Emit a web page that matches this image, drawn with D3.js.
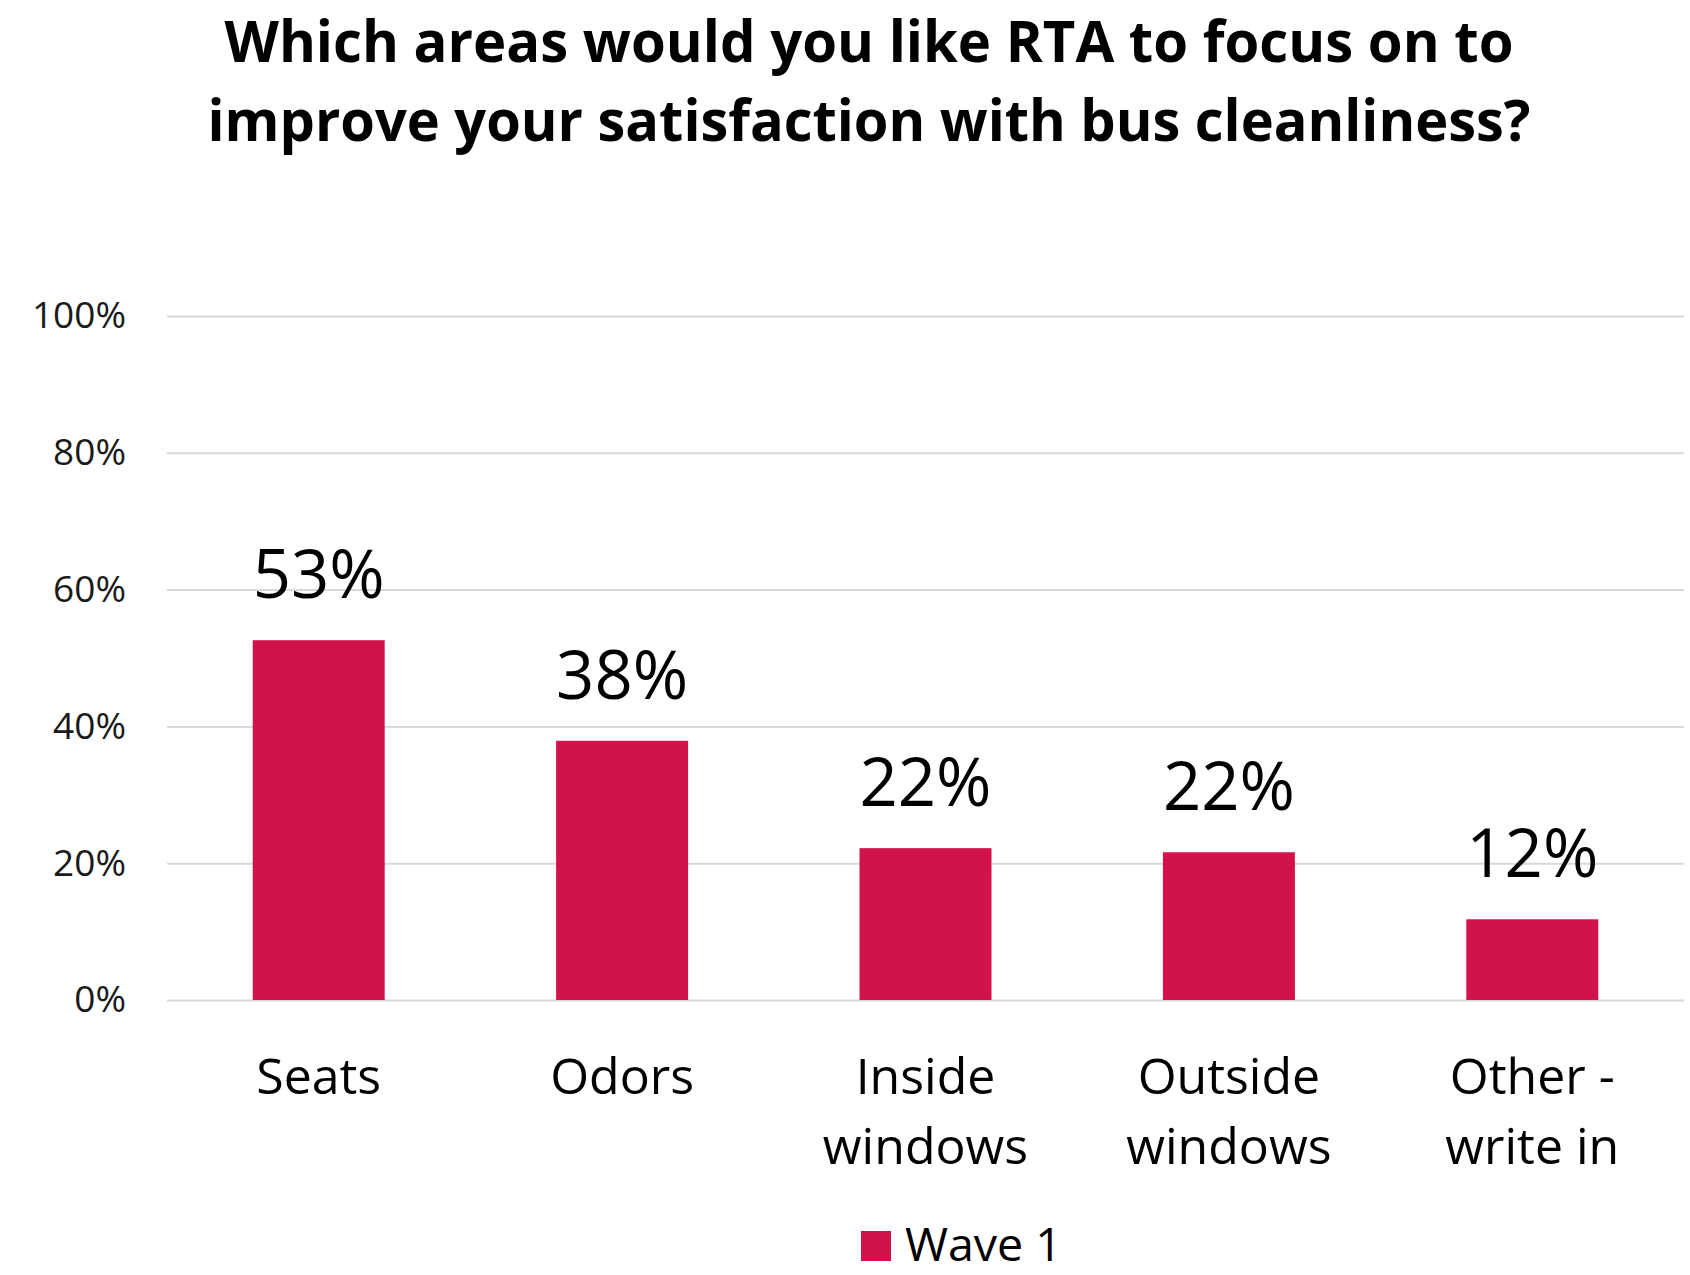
<!DOCTYPE html>
<html>
<head>
<meta charset="utf-8">
<script src="https://cdn.jsdelivr.net/npm/d3@7"></script>
<style>
  html, body { margin: 0; padding: 0; background: #fff; }
  svg { display: block; }
</style>
</head>
<body>
<svg id="chart" width="1690" height="1275"></svg>
<script>
// ---- data ----
const titleLines = [
  "Which areas would you like RTA to focus on to",
  "improve your satisfaction with bus cleanliness?"
];
const categories = [
  ["Seats"],
  ["Odors"],
  ["Inside", "windows"],
  ["Outside", "windows"],
  ["Other -", "write in"]
];
const wave1 = [0.526, 0.379, 0.222, 0.216, 0.118];
const yTicks = [0, 0.2, 0.4, 0.6, 0.8, 1.0];
const seriesName = "Wave 1";

// ---- layout ----
const W = 1690, H = 1275;
const plot = { left: 167, right: 1684, top: 316, bottom: 1000 };
const barColor = "#D0134A";
const font = "'Open Sans', 'DejaVu Sans', sans-serif";

const svg = d3.select("#chart");
svg.append("rect").attr("width", W).attr("height", H).attr("fill", "#fff");

const x = d3.scaleBand()
  .domain(d3.range(categories.length))
  .range([plot.left, plot.right])
  .paddingInner(0.565)
  .paddingOuter(0.2825);

const y = d3.scaleLinear().domain([0, 1]).range([plot.bottom, plot.top]);
const pct = d3.format(".0%");

// title
const titleX = [869, 869];
const titleLen = [1289, 1323];
const titleY = [62, 141];
svg.append("g").selectAll("text").data(titleLines).join("text")
  .attr("x", (d, i) => titleX[i])
  .attr("y", (d, i) => titleY[i])
  .attr("text-anchor", "middle")
  .attr("font-family", font)
  .attr("font-weight", 700)
  .attr("font-size", 58)
  .attr("textLength", (d, i) => titleLen[i])
  .attr("lengthAdjust", "spacingAndGlyphs")
  .attr("fill", "#000")
  .text(d => d);

// y axis (gridlines + labels)
const yAxis = d3.axisLeft(y)
  .tickValues(yTicks)
  .tickFormat(pct)
  .tickSize(-(plot.right - plot.left))
  .tickPadding(41);
const gy = svg.append("g")
  .attr("transform", `translate(${plot.left},0)`)
  .call(yAxis);
gy.select(".domain").remove();
gy.selectAll(".tick line").attr("stroke", "#d9d9d9").attr("stroke-width", 2);
gy.selectAll(".tick text")
  .attr("font-family", font)
  .attr("font-size", 37)
  .attr("fill", "#1a1a1a");

// bars
svg.append("g").selectAll("rect").data(wave1).join("rect")
  .attr("x", (d, i) => x(i))
  .attr("width", x.bandwidth())
  .attr("y", d => y(d))
  .attr("height", d => y(0) - y(d))
  .attr("fill", barColor);

// value labels
svg.append("g").selectAll("text").data(wave1).join("text")
  .attr("x", (d, i) => x(i) + x.bandwidth() / 2)
  .attr("y", d => y(d) - 42)
  .attr("text-anchor", "middle")
  .attr("font-family", font)
  .attr("font-size", 67)
  .attr("fill", "#000")
  .text(d => pct(d));

// category labels
const catG = svg.append("g").selectAll("text").data(categories).join("text")
  .attr("x", (d, i) => x(i) + x.bandwidth() / 2)
  .attr("y", 1094)
  .attr("text-anchor", "middle")
  .attr("font-family", font)
  .attr("font-size", 50)
  .attr("fill", "#000");
catG.selectAll("tspan").data(d => d).join("tspan")
  .attr("x", function () { return d3.select(this.parentNode).attr("x"); })
  .attr("dy", (d, j) => j === 0 ? 0 : 70)
  .text(d => d);

// legend
const leg = svg.append("g");
leg.append("rect")
  .attr("x", 861).attr("y", 1231).attr("width", 30).attr("height", 30)
  .attr("fill", barColor);
leg.append("text")
  .attr("x", 905).attr("y", 1261)
  .attr("font-family", font)
  .attr("font-size", 45)
  .attr("textLength", 157)
  .attr("lengthAdjust", "spacingAndGlyphs")
  .attr("fill", "#000")
  .text(seriesName);
</script>
</body>
</html>
